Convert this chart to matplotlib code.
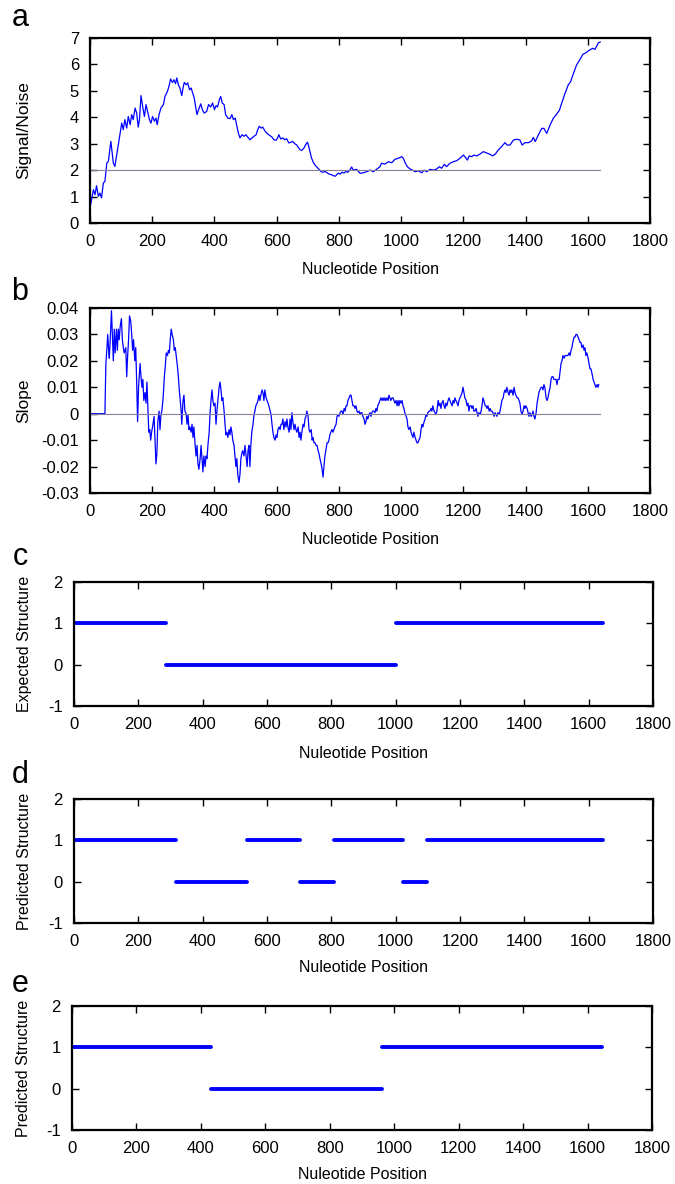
import numpy as np
import matplotlib
matplotlib.use("Agg")
import matplotlib.pyplot as plt
from matplotlib.ticker import FuncFormatter

plt.rcParams['font.family'] = ['Liberation Sans', 'DejaVu Sans']
plt.rcParams['axes.unicode_minus'] = False

# panel a: signal/noise trace
a_x = [2, 5, 11, 16, 21, 27, 32, 37, 43, 48, 54, 59, 67, 75, 80, 86, 91, 96, 102, 107,
       112, 118, 123, 129, 134, 139, 145, 150, 155, 159, 164, 170, 175, 180, 185, 191, 196, 201, 207, 212,
       216, 222, 228, 236, 241, 249, 255, 259, 265, 270, 275, 279, 284, 289, 295, 300, 303, 309, 314, 320,
       325, 330, 335, 341, 344, 349, 356, 361, 367, 375, 381, 388, 394, 400, 405, 410, 416, 420, 425, 431,
       436, 443, 450, 456, 461, 467, 471, 477, 482, 489, 495, 501, 509, 514, 521, 527, 534, 539, 544, 550,
       555, 563, 570, 579, 585, 591, 598, 603, 607, 613, 619, 626, 632, 639, 645, 651, 658, 664, 670, 675,
       681, 688, 693, 699, 703, 707, 712, 718, 724, 730, 737, 743, 750, 756, 763, 769, 776, 782, 789, 793,
       798, 804, 810, 816, 823, 829, 836, 841, 846, 857, 868, 879, 889, 900, 911, 921, 932, 937, 948, 959,
       970, 980, 991, 1002, 1007, 1013, 1020, 1029, 1037, 1045, 1055, 1066, 1074, 1082, 1093, 1104, 1114, 1123, 1130, 1139,
       1146, 1157, 1168, 1179, 1189, 1200, 1205, 1213, 1219, 1227, 1234, 1243, 1254, 1264, 1273, 1284, 1294, 1303, 1312, 1323,
       1334, 1341, 1350, 1361, 1371, 1382, 1389, 1398, 1409, 1420, 1425, 1431, 1441, 1452, 1459, 1468, 1479, 1489, 1498, 1509,
       1516, 1527, 1537, 1545, 1554, 1564, 1575, 1584, 1594, 1605, 1616, 1623, 1629, 1634, 1640]
a_y = [0.69, 0.88, 1.26, 1.07, 1.41, 1.01, 1.13, 0.95, 1.51, 1.58, 2.27, 2.33, 3.09, 2.27, 2.14, 2.58, 2.96, 3.34, 3.78, 3.53,
       3.91, 3.59, 4.03, 3.72, 4.10, 3.91, 4.35, 4.16, 3.63, 3.91, 4.82, 4.35, 4.03, 4.48, 4.22, 3.91, 3.78, 4.03, 3.85, 3.97,
       3.72, 4.10, 4.35, 4.48, 4.79, 4.98, 5.23, 5.45, 5.32, 5.42, 5.27, 5.49, 5.23, 5.11, 4.82, 5.17, 5.32, 5.23, 5.30, 5.04,
       5.11, 4.92, 4.73, 4.29, 4.10, 4.29, 4.51, 4.29, 4.16, 4.22, 4.48, 4.39, 4.54, 4.29, 4.44, 4.39, 4.67, 4.79, 4.54, 4.48,
       4.10, 3.97, 3.95, 4.10, 3.91, 3.97, 3.72, 3.40, 3.22, 3.34, 3.28, 3.34, 3.22, 3.15, 3.22, 3.28, 3.34, 3.53, 3.66, 3.59,
       3.63, 3.47, 3.38, 3.30, 3.25, 3.15, 3.13, 3.22, 3.34, 3.18, 3.22, 3.15, 3.19, 3.03, 3.05, 3.09, 3.00, 2.96, 2.86, 2.77,
       2.75, 2.84, 2.96, 3.06, 2.90, 2.71, 2.46, 2.29, 2.18, 2.11, 2.02, 1.94, 1.92, 1.95, 1.89, 1.85, 1.83, 1.79, 1.77, 1.83,
       1.89, 1.85, 1.92, 1.89, 1.95, 1.92, 2.02, 2.12, 2.00, 2.03, 1.88, 1.90, 1.94, 2.00, 1.94, 2.03, 2.13, 2.26, 2.23, 2.32,
       2.28, 2.41, 2.45, 2.51, 2.45, 2.28, 2.13, 2.04, 2.00, 1.94, 1.98, 1.90, 2.00, 1.94, 2.03, 2.00, 2.04, 2.13, 2.07, 2.22,
       2.13, 2.26, 2.32, 2.36, 2.45, 2.57, 2.51, 2.38, 2.54, 2.51, 2.57, 2.54, 2.61, 2.70, 2.66, 2.61, 2.54, 2.61, 2.76, 2.89,
       3.04, 2.95, 2.95, 3.14, 3.17, 3.14, 2.95, 3.04, 3.04, 3.11, 3.24, 3.08, 3.33, 3.58, 3.58, 3.39, 3.71, 3.96, 4.09, 4.27,
       4.53, 4.91, 5.22, 5.35, 5.66, 5.98, 6.19, 6.38, 6.44, 6.54, 6.61, 6.57, 6.70, 6.82, 6.85]

# panel b: slope trace
b_x = [0, 48, 51, 54, 57, 60, 62, 65, 69, 72, 75, 78, 81, 85, 88, 91, 94, 97, 101, 104,
       107, 110, 115, 118, 121, 124, 127, 131, 134, 137, 140, 144, 147, 150, 153, 156, 161, 164, 167, 170,
       173, 177, 180, 183, 186, 189, 192, 195, 198, 201, 206, 209, 212, 215, 218, 222, 225, 228, 231, 235,
       239, 242, 245, 249, 252, 255, 258, 261, 264, 268, 271, 274, 277, 281, 284, 287, 290, 293, 295, 299,
       302, 305, 309, 312, 315, 318, 321, 325, 328, 331, 334, 338, 341, 344, 347, 350, 354, 357, 360, 363,
       366, 370, 373, 376, 379, 383, 386, 389, 392, 395, 398, 402, 405, 408, 411, 415, 418, 421, 424, 427,
       431, 434, 437, 440, 443, 447, 450, 453, 456, 459, 463, 466, 469, 472, 475, 479, 482, 485, 488, 491,
       495, 498, 501, 505, 508, 511, 514, 517, 520, 524, 527, 530, 533, 537, 540, 543, 546, 549, 553, 556,
       559, 562, 566, 569, 572, 575, 579, 582, 585, 588, 591, 595, 598, 601, 604, 608, 611, 614, 617, 620,
       623, 627, 630, 633, 636, 640, 643, 646, 649, 652, 656, 659, 662, 665, 669, 672, 675, 678, 681, 685,
       688, 691, 694, 697, 701, 704, 707, 711, 714, 717, 720, 723, 727, 730, 733, 736, 739, 743, 746, 749,
       752, 755, 758, 762, 765, 768, 771, 774, 778, 781, 784, 787, 791, 794, 797, 800, 804, 807, 810, 813,
       817, 820, 823, 826, 829, 833, 836, 839, 842, 845, 849, 852, 855, 858, 861, 865, 868, 871, 874, 877,
       881, 884, 887, 890, 893, 897, 900, 903, 906, 909, 913, 916, 919, 922, 925, 929, 932, 935, 939, 942,
       945, 948, 951, 955, 958, 961, 964, 967, 971, 974, 977, 980, 984, 987, 990, 993, 996, 1000, 1003, 1006,
       1009, 1012, 1016, 1019, 1022, 1025, 1029, 1032, 1035, 1038, 1041, 1045, 1048, 1051, 1054, 1057, 1061, 1064, 1067, 1070,
       1074, 1077, 1080, 1083, 1086, 1090, 1093, 1096, 1099, 1102, 1106, 1109, 1112, 1115, 1119, 1122, 1125, 1128, 1131, 1135,
       1138, 1141, 1144, 1147, 1151, 1154, 1157, 1160, 1164, 1167, 1170, 1173, 1176, 1180, 1183, 1186, 1189, 1193, 1196, 1199,
       1202, 1205, 1209, 1212, 1215, 1218, 1221, 1225, 1228, 1231, 1234, 1237, 1241, 1244, 1247, 1250, 1254, 1257, 1260, 1263,
       1266, 1270, 1273, 1276, 1279, 1283, 1286, 1289, 1292, 1295, 1299, 1302, 1305, 1308, 1311, 1315, 1318, 1321, 1324, 1328,
       1331, 1334, 1337, 1340, 1344, 1347, 1350, 1353, 1356, 1360, 1363, 1366, 1369, 1373, 1376, 1379, 1382, 1385, 1389, 1392,
       1395, 1398, 1401, 1405, 1408, 1411, 1414, 1418, 1421, 1424, 1427, 1430, 1434, 1437, 1440, 1443, 1446, 1450, 1453, 1456,
       1459, 1462, 1466, 1469, 1472, 1475, 1479, 1482, 1485, 1488, 1491, 1495, 1498, 1501, 1504, 1508, 1511, 1514, 1517, 1520,
       1524, 1527, 1530, 1533, 1536, 1540, 1543, 1546, 1549, 1552, 1556, 1559, 1562, 1565, 1569, 1572, 1575, 1578, 1581, 1585,
       1588, 1591, 1594, 1597, 1601, 1604, 1607, 1610, 1614, 1617, 1620, 1623, 1626, 1630, 1633, 1635]
b_y = [0.0, 0.0, 0.019, 0.024, 0.030, 0.024, 0.021, 0.028, 0.039, 0.029, 0.020, 0.032, 0.023, 0.032, 0.024, 0.032, 0.028, 0.033, 0.036, 0.028,
       0.025, 0.023, 0.025, 0.014, 0.022, 0.028, 0.037, 0.035, 0.030, 0.024, 0.028, 0.020, 0.025, 0.012, -0.003, 0.010, 0.019, 0.014, 0.010, 0.013,
       0.005, 0.008, 0.004, 0.012, 0.002, -0.007, -0.006, -0.010, -0.007, -0.005, -0.001, -0.010, -0.019, -0.015, -0.003, 0.001, -0.006, -0.0003, 0.001, 0.006,
       0.014, 0.018, 0.023, 0.022, 0.024, 0.023, 0.028, 0.032, 0.030, 0.028, 0.024, 0.025, 0.022, 0.018, 0.014, 0.009, 0.005, 0.001, -0.004, 0.005,
       0.007, 0.001, 0.000, -0.004, -0.0003, -0.006, -0.005, -0.007, -0.004, -0.009, -0.005, -0.012, -0.016, -0.012, -0.019, -0.021, -0.017, -0.012, -0.017, -0.022,
       -0.016, -0.020, -0.016, -0.017, -0.012, -0.007, 0.0003, 0.005, 0.009, 0.005, 0.003, 0.004, -0.004, 0.001, 0.005, 0.010, 0.012, 0.009, 0.005, 0.006,
       0.001, -0.004, -0.008, -0.007, -0.009, -0.006, -0.008, -0.005, -0.007, -0.010, -0.012, -0.016, -0.020, -0.017, -0.023, -0.026, -0.023, -0.017, -0.015, -0.014,
       -0.016, -0.012, -0.015, -0.020, -0.014, -0.012, -0.020, -0.012, -0.007, -0.004, -0.0005, 0.001, 0.003, 0.004, 0.005, 0.007, 0.005, 0.007, 0.009, 0.008,
       0.005, 0.009, 0.006, 0.005, 0.004, 0.003, 0.001, -0.0003, -0.004, -0.007, -0.009, -0.010, -0.008, -0.009, -0.006, -0.005, -0.006, -0.004, -0.004, -0.002,
       -0.006, -0.003, -0.005, -0.002, -0.005, -0.007, -0.002, -0.006, 0.0004, -0.003, -0.006, -0.004, -0.006, -0.007, -0.005, -0.009, -0.007, -0.010, -0.007, -0.004,
       -0.005, -0.002, -0.001, 0.001, -0.001, -0.006, -0.007, -0.006, -0.010, -0.009, -0.011, -0.011, -0.012, -0.012, -0.014, -0.015, -0.017, -0.019, -0.021, -0.024,
       -0.020, -0.016, -0.014, -0.011, -0.011, -0.010, -0.008, -0.007, -0.006, -0.007, -0.006, -0.005, -0.004, -0.001, -0.0003, -0.001, 0.0004, 0.001, 0.001, -0.0003,
       0.002, 0.001, 0.003, 0.003, 0.005, 0.006, 0.007, 0.007, 0.005, 0.003, 0.003, 0.002, 0.003, 0.001, 0.0004, 0.001, -0.0003, 0.0004, 0.0004, -0.001,
       -0.002, -0.004, -0.003, -0.001, -0.002, -0.0003, 0.0004, -0.001, 0.0004, 0.001, 0.001, 0.0004, 0.002, 0.001, 0.003, 0.004, 0.005, 0.006, 0.005, 0.006,
       0.005, 0.006, 0.005, 0.006, 0.005, 0.007, 0.006, 0.005, 0.006, 0.006, 0.005, 0.004, 0.005, 0.003, 0.005, 0.003, 0.005, 0.004, 0.005, 0.003,
       0.002, 0.0004, -0.001, -0.002, -0.005, -0.006, -0.005, -0.007, -0.008, -0.009, -0.007, -0.009, -0.010, -0.011, -0.011, -0.010, -0.009, -0.006, -0.004, -0.005,
       -0.003, -0.002, -0.0003, -0.001, 0.0004, 0.001, 0.001, 0.002, 0.001, 0.003, 0.001, 0.0004, -0.0003, 0.001, 0.005, 0.003, 0.004, 0.002, 0.004, 0.005,
       0.003, 0.002, 0.004, 0.003, 0.005, 0.006, 0.005, 0.004, 0.003, 0.005, 0.004, 0.006, 0.005, 0.004, 0.003, 0.005, 0.006, 0.007, 0.008, 0.010,
       0.008, 0.006, 0.005, 0.003, 0.004, 0.001, 0.003, 0.003, 0.002, 0.003, 0.001, 0.001, 0.002, 0.0004, -0.001, 0.0004, -0.0003, 0.001, 0.003, 0.006,
       0.005, 0.003, 0.003, 0.002, 0.003, 0.001, 0.002, 0.001, 0.001, 0.0004, -0.001, 0.0004, -0.0003, -0.001, 0.0004, -0.0003, 0.001, 0.003, 0.005, 0.006,
       0.008, 0.009, 0.008, 0.010, 0.008, 0.007, 0.009, 0.008, 0.009, 0.007, 0.010, 0.008, 0.007, 0.006, 0.006, 0.005, 0.004, 0.001, -0.0003, 0.001,
       0.003, 0.002, 0.003, 0.002, 0.0004, -0.001, 0.0004, -0.001, -0.0003, 0.001, -0.001, -0.002, 0.0004, 0.004, 0.006, 0.008, 0.009, 0.010, 0.010, 0.009,
       0.011, 0.010, 0.006, 0.005, 0.006, 0.008, 0.010, 0.013, 0.014, 0.014, 0.013, 0.013, 0.013, 0.011, 0.013, 0.013, 0.016, 0.019, 0.020, 0.022,
       0.021, 0.022, 0.022, 0.022, 0.022, 0.023, 0.022, 0.024, 0.025, 0.027, 0.029, 0.029, 0.030, 0.030, 0.029, 0.028, 0.027, 0.027, 0.025, 0.026,
       0.024, 0.025, 0.022, 0.023, 0.021, 0.019, 0.017, 0.017, 0.015, 0.013, 0.012, 0.011, 0.010, 0.011, 0.010, 0.011]

# panels c, d, e: structure segments (start, end, state)
c_start = [0, 285, 1000]
c_end = [285, 1000, 1645]
c_val = [1, 0, 1]

d_start = [0, 316, 539, 703, 807, 1024, 1097]
d_end = [316, 539, 703, 807, 1024, 1097, 1645]
d_val = [1, 0, 1, 0, 1, 0, 1]

e_start = [0, 430, 963]
e_end = [430, 963, 1645]
e_val = [1, 0, 1]

seq_len = 1640
threshold = 2

W, H = 675, 1184
fig = plt.figure(figsize=(W / 100, H / 100), dpi=100)


def px_axes(left, top, right, bottom):
    return fig.add_axes([left / W, 1 - bottom / H, (right - left) / W, (bottom - top) / H])


def style(ax, ylabel, xlabel, ylx, xly, ysize=12.5):
    ax.set_xlim(0, 1800)
    ax.set_xticks(np.arange(0, 1801, 200))
    ax.tick_params(direction='in', top=True, right=True, length=5, width=1,
                   labelsize=12, pad=8, colors='black')
    for s in ax.spines.values():
        s.set_linewidth(1.6)
    ax.set_ylabel(ylabel, fontsize=ysize)
    ax.set_xlabel(xlabel, fontsize=11.5)
    ax.yaxis.set_label_coords(ylx, 0.5)
    ax.xaxis.set_label_coords(0.5, xly)
    ax.xaxis.label.set_va('center')
    ax.yaxis.label.set_va('center')


blue = '#0000ff'
gray = '#8a7f9a'

# a
ax = px_axes(90, 38, 650, 223)
ax.plot(a_x, a_y, color=blue, lw=0.9)
ax.plot([0, seq_len], [threshold, threshold], color=gray, lw=0.8)
ax.set_ylim(0, 7)
ax.set_yticks(range(0, 8))
style(ax, 'Signal/Noise', 'Nucleotide Position', -0.118, -0.254)

# b
ax = px_axes(90, 308, 650, 493)
ax.plot(b_x, b_y, color=blue, lw=0.9)
ax.plot([0, seq_len], [0, 0], color=gray, lw=0.8)
ax.set_ylim(-0.03, 0.04)
ax.set_yticks(np.round(np.arange(-0.03, 0.041, 0.01), 2))
ax.yaxis.set_major_formatter(FuncFormatter(lambda v, p: '{:g}'.format(round(v, 2))))
style(ax, 'Slope', 'Nucleotide Position', -0.118, -0.249)


def structure(ax, starts, ends, vals, ylabel, ylx, xly):
    for s, e, v in zip(starts, ends, vals):
        ax.plot([s, e], [v, v], color=blue, lw=2.8, solid_capstyle='round')
    ax.set_ylim(-1, 2)
    ax.set_yticks([-1, 0, 1, 2])
    style(ax, ylabel, 'Nuleotide Position', ylx, xly, ysize=11.5)


ax = px_axes(74, 582, 653, 706)
structure(ax, c_start, c_end, c_val, 'Expected Structure', -0.086, -0.387)
ax = px_axes(74, 799, 653, 923)
structure(ax, d_start, d_end, d_val, 'Predicted Structure', -0.086, -0.355)
ax = px_axes(72, 1006, 652, 1130)
structure(ax, e_start, e_end, e_val, 'Predicted Structure', -0.083, -0.355)

for lab, x, y in [('a', 20, 18), ('b', 20, 292), ('c', 20, 557), ('d', 20, 775), ('e', 20, 984)]:
    fig.text(x / W, 1 - y / H, lab, fontsize=22, ha='center', va='center')

fig.savefig('out.png', dpi=100)
